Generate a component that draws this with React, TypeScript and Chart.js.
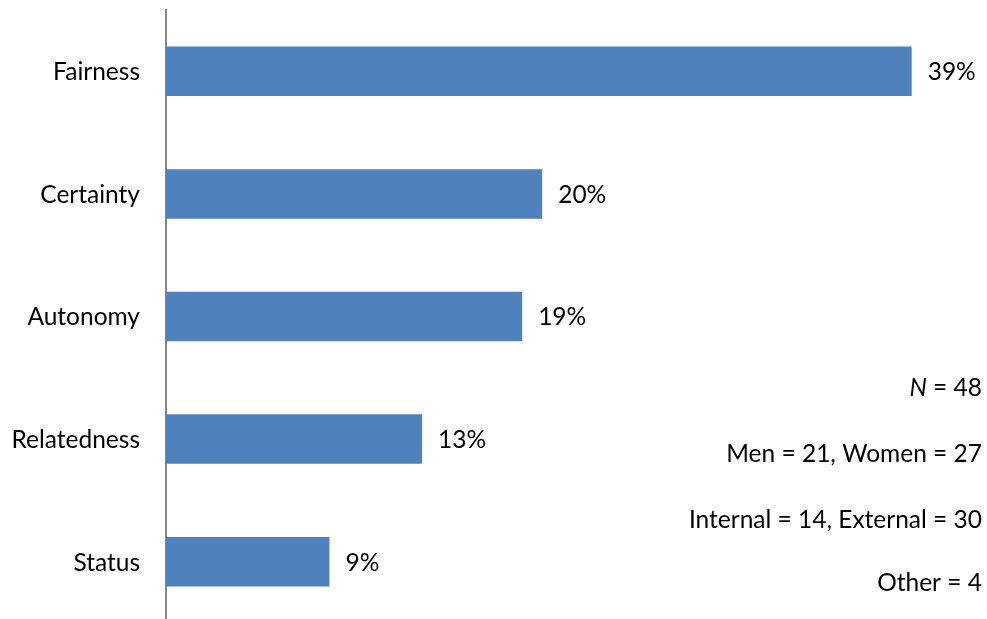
import React, { useEffect, useRef } from "react";
import { Chart, registerables } from "chart.js";

Chart.register(...registerables);

const categories = ["Fairness", "Certainty", "Autonomy", "Relatedness", "Status"];
const percentValues = [39.05, 19.7, 18.65, 13.41, 8.56];
const noteItalicPrefix = ["N", "", "", ""];
const noteTexts = [" = 48", "Men = 21, Women = 27", "Internal = 14, External = 30", "Other = 4"];

const FONT = "Lato, 'Open Sans', sans-serif";
const FONT_SIZE = 24.5;
const BAR_COLOR = "#4F81BD";

export default function App() {
  const canvasRef = useRef<HTMLCanvasElement | null>(null);

  useEffect(() => {
    document.body.style.margin = "0";
    document.body.style.overflow = "hidden";
    const canvas = canvasRef.current;
    if (!canvas) return;

    const categoryLabelPlugin = {
      id: "categoryLabels",
      afterDraw(chart: any) {
        const ctx = chart.ctx;
        const yScale = chart.scales.y;
        ctx.save();
        ctx.font = `${FONT_SIZE}px ${FONT}`;
        ctx.fillStyle = "#000000";
        ctx.textAlign = "right";
        ctx.textBaseline = "middle";
        (chart.data.labels as string[]).forEach((lab, i) => {
          ctx.fillText(lab, chart.chartArea.left - 26, yScale.getPixelForValue(i) + 1);
        });
        ctx.restore();
      },
    };

    const valueLabelPlugin = {
      id: "valueLabels",
      afterDatasetsDraw(chart: any) {
        const ctx = chart.ctx;
        const meta = chart.getDatasetMeta(0);
        ctx.save();
        ctx.font = `${FONT_SIZE}px ${FONT}`;
        ctx.fillStyle = "#000000";
        ctx.textAlign = "left";
        ctx.textBaseline = "middle";
        meta.data.forEach((bar: any, i: number) => {
          const v = chart.data.datasets[0].data[i] as number;
          ctx.fillText(Math.round(v) + "%", bar.x + 16, bar.y + 1);
        });
        ctx.restore();
      },
    };

    const notesPlugin = {
      id: "notes",
      afterDraw(chart: any) {
        const ctx = chart.ctx;
        const rightX = 982;
        const ys = [388, 454, 520, 583];
        ctx.save();
        ctx.fillStyle = "#000000";
        ctx.textBaseline = "middle";
        ctx.textAlign = "left";
        noteTexts.forEach((t, i) => {
          const it = noteItalicPrefix[i];
          ctx.font = `${FONT_SIZE}px ${FONT}`;
          const wNormal = ctx.measureText(t).width;
          ctx.font = `italic ${FONT_SIZE}px ${FONT}`;
          const wItalic = it ? ctx.measureText(it).width : 0;
          const startX = rightX - wNormal - wItalic;
          if (it) {
            ctx.fillText(it, startX, ys[i]);
          }
          ctx.font = `${FONT_SIZE}px ${FONT}`;
          ctx.fillText(t, startX + wItalic, ys[i]);
        });
        ctx.restore();
      },
    };

    const chart = new Chart(canvas, {
      type: "bar",
      data: {
        labels: categories,
        datasets: [
          {
            data: percentValues,
            backgroundColor: BAR_COLOR,
            borderWidth: 0,
            categoryPercentage: 1,
            barPercentage: 0.404,
          },
        ],
      },
      options: {
        indexAxis: "y",
        animation: false,
        responsive: false,
        maintainAspectRatio: false,
        layout: { padding: { top: 10, bottom: 2, right: 19, left: 0 } },
        plugins: {
          legend: { display: false },
          tooltip: { enabled: false },
        },
        scales: {
          x: {
            display: false,
            min: 0,
            max: 42,
          },
          y: {
            afterFit(scale: any) {
              scale.width = 166;
            },
            grid: { display: false, drawTicks: false },
            border: { display: true, color: "#868686", width: 2 },
            ticks: { display: false },
          },
        },
      },
      plugins: [valueLabelPlugin, categoryLabelPlugin, notesPlugin],
    });

    return () => {
      chart.destroy();
    };
  }, []);

  return (
    <div style={{ position: "fixed", left: 0, top: 0, width: 987, height: 625 }}>
      <canvas ref={canvasRef} width={987} height={625} style={{ width: 987, height: 625 }} />
    </div>
  );
}
